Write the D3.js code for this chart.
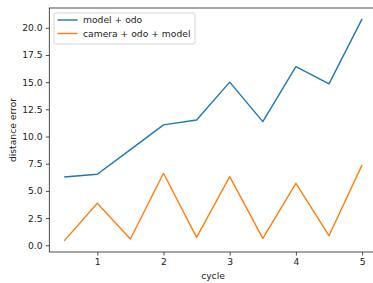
<!DOCTYPE html>
<html>
<head>
<meta charset="utf-8">
<script src="https://cdnjs.cloudflare.com/ajax/libs/d3/7.8.5/d3.min.js"></script>
<style>
  body { margin: 0; background: #fff; overflow: hidden; }
  svg { display: block; font-family: "DejaVu Sans", sans-serif; }
</style>
</head>
<body>
<div id="chart"></div>
<script>
// chart data
var cycles = [0.5, 1, 1.5, 2, 2.5, 3, 3.5, 4, 4.5, 5];
var modelOdo = [6.28, 6.53, 8.8, 11.07, 11.52, 15.0, 11.37, 16.43, 14.84, 20.82];
var cameraOdoModel = [0.40, 3.86, 0.58, 6.62, 0.73, 6.31, 0.64, 5.70, 0.88, 7.39];
var seriesNames = ["model + odo", "camera + odo + model"];
var seriesColors = ["#1f77b4", "#ff7f0e"];
var xTicks = [1, 2, 3, 4, 5];
var yTicks = [0, 2.5, 5, 7.5, 10, 12.5, 15, 17.5, 20];

var W = 373, H = 283;
var plotLeft = 49.3, plotRight = 377, plotTop = 8, plotBottom = 252;
var fontSize = 9.2;

var svg = d3.select("#chart").append("svg")
    .attr("width", W)
    .attr("height", H);

var xScale = d3.scaleLinear().domain([0.275, 5.225]).range([plotLeft, plotRight]);
var yScale = d3.scaleLinear().domain([-0.62, 21.82]).range([plotBottom, plotTop]);

var series = [modelOdo, cameraOdoModel];

var line = d3.line()
    .x(function(d, i) { return xScale(cycles[i]); })
    .y(function(d) { return yScale(d); });

svg.selectAll(".series")
    .data(series)
  .enter().append("path")
    .attr("class", "series")
    .attr("fill", "none")
    .attr("stroke", function(d, i) { return seriesColors[i]; })
    .attr("stroke-width", 1.4)
    .attr("stroke-linejoin", "round")
    .attr("d", line);

// axes
var xAxis = d3.axisBottom(xScale).tickValues(xTicks).tickSizeOuter(0).tickSize(3.5).tickPadding(3.2)
    .tickFormat(d3.format("d"));
var yAxis = d3.axisLeft(yScale).tickValues(yTicks).tickSizeOuter(0).tickSize(3.5).tickPadding(3.2)
    .tickFormat(d3.format(".1f"));

var gX = svg.append("g")
    .attr("transform", "translate(0," + plotBottom + ")")
    .call(xAxis);
var gY = svg.append("g")
    .attr("transform", "translate(" + plotLeft + ",0)")
    .call(yAxis);

[gX, gY].forEach(function(g) {
  g.select(".domain").remove();
  g.selectAll("line").attr("stroke", "#222").attr("stroke-width", 0.8);
  g.selectAll("text").attr("font-size", fontSize).attr("fill", "#222")
    .attr("font-family", "DejaVu Sans, sans-serif");
});

// frame (right spine falls outside the picture)
svg.append("rect")
    .attr("x", plotLeft)
    .attr("y", plotTop)
    .attr("width", plotRight - plotLeft)
    .attr("height", plotBottom - plotTop)
    .attr("fill", "none")
    .attr("stroke", "#222")
    .attr("stroke-width", 0.8);

// labels
svg.append("text")
    .attr("x", 213)
    .attr("y", 279)
    .attr("text-anchor", "middle")
    .attr("font-size", fontSize)
    .attr("fill", "#222")
    .text("cycle");

svg.append("text")
    .attr("transform", "translate(16," + (plotTop + plotBottom) / 2 + ") rotate(-90)")
    .attr("text-anchor", "middle")
    .attr("font-size", fontSize)
    .attr("fill", "#222")
    .text("distance error");

// legend
var legend = svg.append("g");
legend.append("rect")
    .attr("x", 54)
    .attr("y", 13)
    .attr("width", 141)
    .attr("height", 31)
    .attr("rx", 2)
    .attr("fill", "#fff")
    .attr("fill-opacity", 0.8)
    .attr("stroke", "#ccc")
    .attr("stroke-width", 0.8);

var item = legend.selectAll(".item")
    .data(seriesNames)
  .enter().append("g")
    .attr("transform", function(d, i) { return "translate(0," + (20 + i * 13.5) + ")"; });

item.append("line")
    .attr("x1", 57.5)
    .attr("x2", 77.5)
    .attr("stroke", function(d, i) { return seriesColors[i]; })
    .attr("stroke-width", 1.4);

item.append("text")
    .attr("x", 83)
    .attr("dy", "0.35em")
    .attr("font-size", fontSize)
    .attr("fill", "#222")
    .text(function(d) { return d; });
</script>
</body>
</html>
